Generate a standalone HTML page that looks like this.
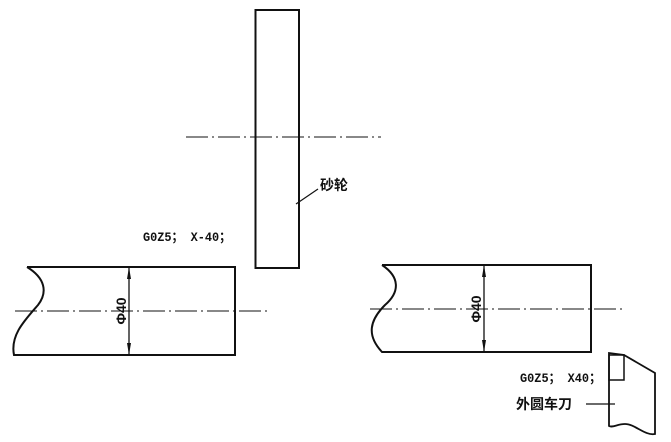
<!DOCTYPE html>
<html><head><meta charset="utf-8"><style>
html,body{margin:0;padding:0;background:#fff;}
svg{display:block;}
text{font-family:"Liberation Sans","Noto Sans CJK SC",sans-serif;font-weight:bold;fill:#111;}
.m{font-family:"Liberation Mono","Noto Sans CJK SC",monospace;}
</style></head><body>
<svg width="671" height="442" viewBox="0 0 671 442" xmlns="http://www.w3.org/2000/svg">
<g fill="none" stroke="#111">
<rect x="255.5" y="10" width="43.5" height="258" stroke-width="2"/>
<line x1="186" y1="137" x2="381" y2="137" stroke-width="1" stroke-dasharray="22,4,2,4"/>
<line x1="296" y1="204" x2="318" y2="189" stroke-width="1.2"/>
<path d="M27,267 H235 V355 H14 C10,335 25,320 38,305 C48,292 45,278 27,267" stroke-width="2"/>
<line x1="15" y1="311" x2="267" y2="311" stroke-width="1" stroke-dasharray="22,4,2,4"/>
<line x1="129" y1="267" x2="129" y2="355" stroke-width="1.3"/>
<path d="M382,265 H591 V352 H382 C366,335 370,320 385,305 C400,292 400,277 382,265" stroke-width="2"/>
<line x1="370" y1="309" x2="622" y2="309" stroke-width="1" stroke-dasharray="22,4,2,4"/>
<line x1="484" y1="265" x2="484" y2="352" stroke-width="1.3"/>
<path d="M609,426 V353 L624,355 L655,373 V434 C645,436 635,424 625,424 C617,424 613,428 609,426 Z" stroke-width="1.8"/>
<rect x="609" y="355" width="15" height="25" stroke-width="1.5"/>
<line x1="586" y1="404" x2="615" y2="404" stroke-width="1.2"/>
</g>
<g fill="#111">
<polygon points="129,267 127,279 131,279"/><polygon points="129,355 127,343 131,343"/>
<polygon points="484,265 482,277 486,277"/><polygon points="484,352 482,340 486,340"/>
</g>
<text x="320" y="190" font-size="14">砂轮</text>
<text class="m" x="143" y="241" font-size="13" textLength="88" lengthAdjust="spacingAndGlyphs">G0Z5； X-40；</text>
<text class="m" x="520" y="382" font-size="13" textLength="81" lengthAdjust="spacingAndGlyphs">G0Z5； X40；</text>
<text x="516" y="409" font-size="14">外圆车刀</text>
<text transform="translate(126,311) rotate(-90)" font-size="14" text-anchor="middle">Φ40</text>
<text transform="translate(481,309) rotate(-90)" font-size="14" text-anchor="middle">Φ40</text>
</svg>
</body></html>
